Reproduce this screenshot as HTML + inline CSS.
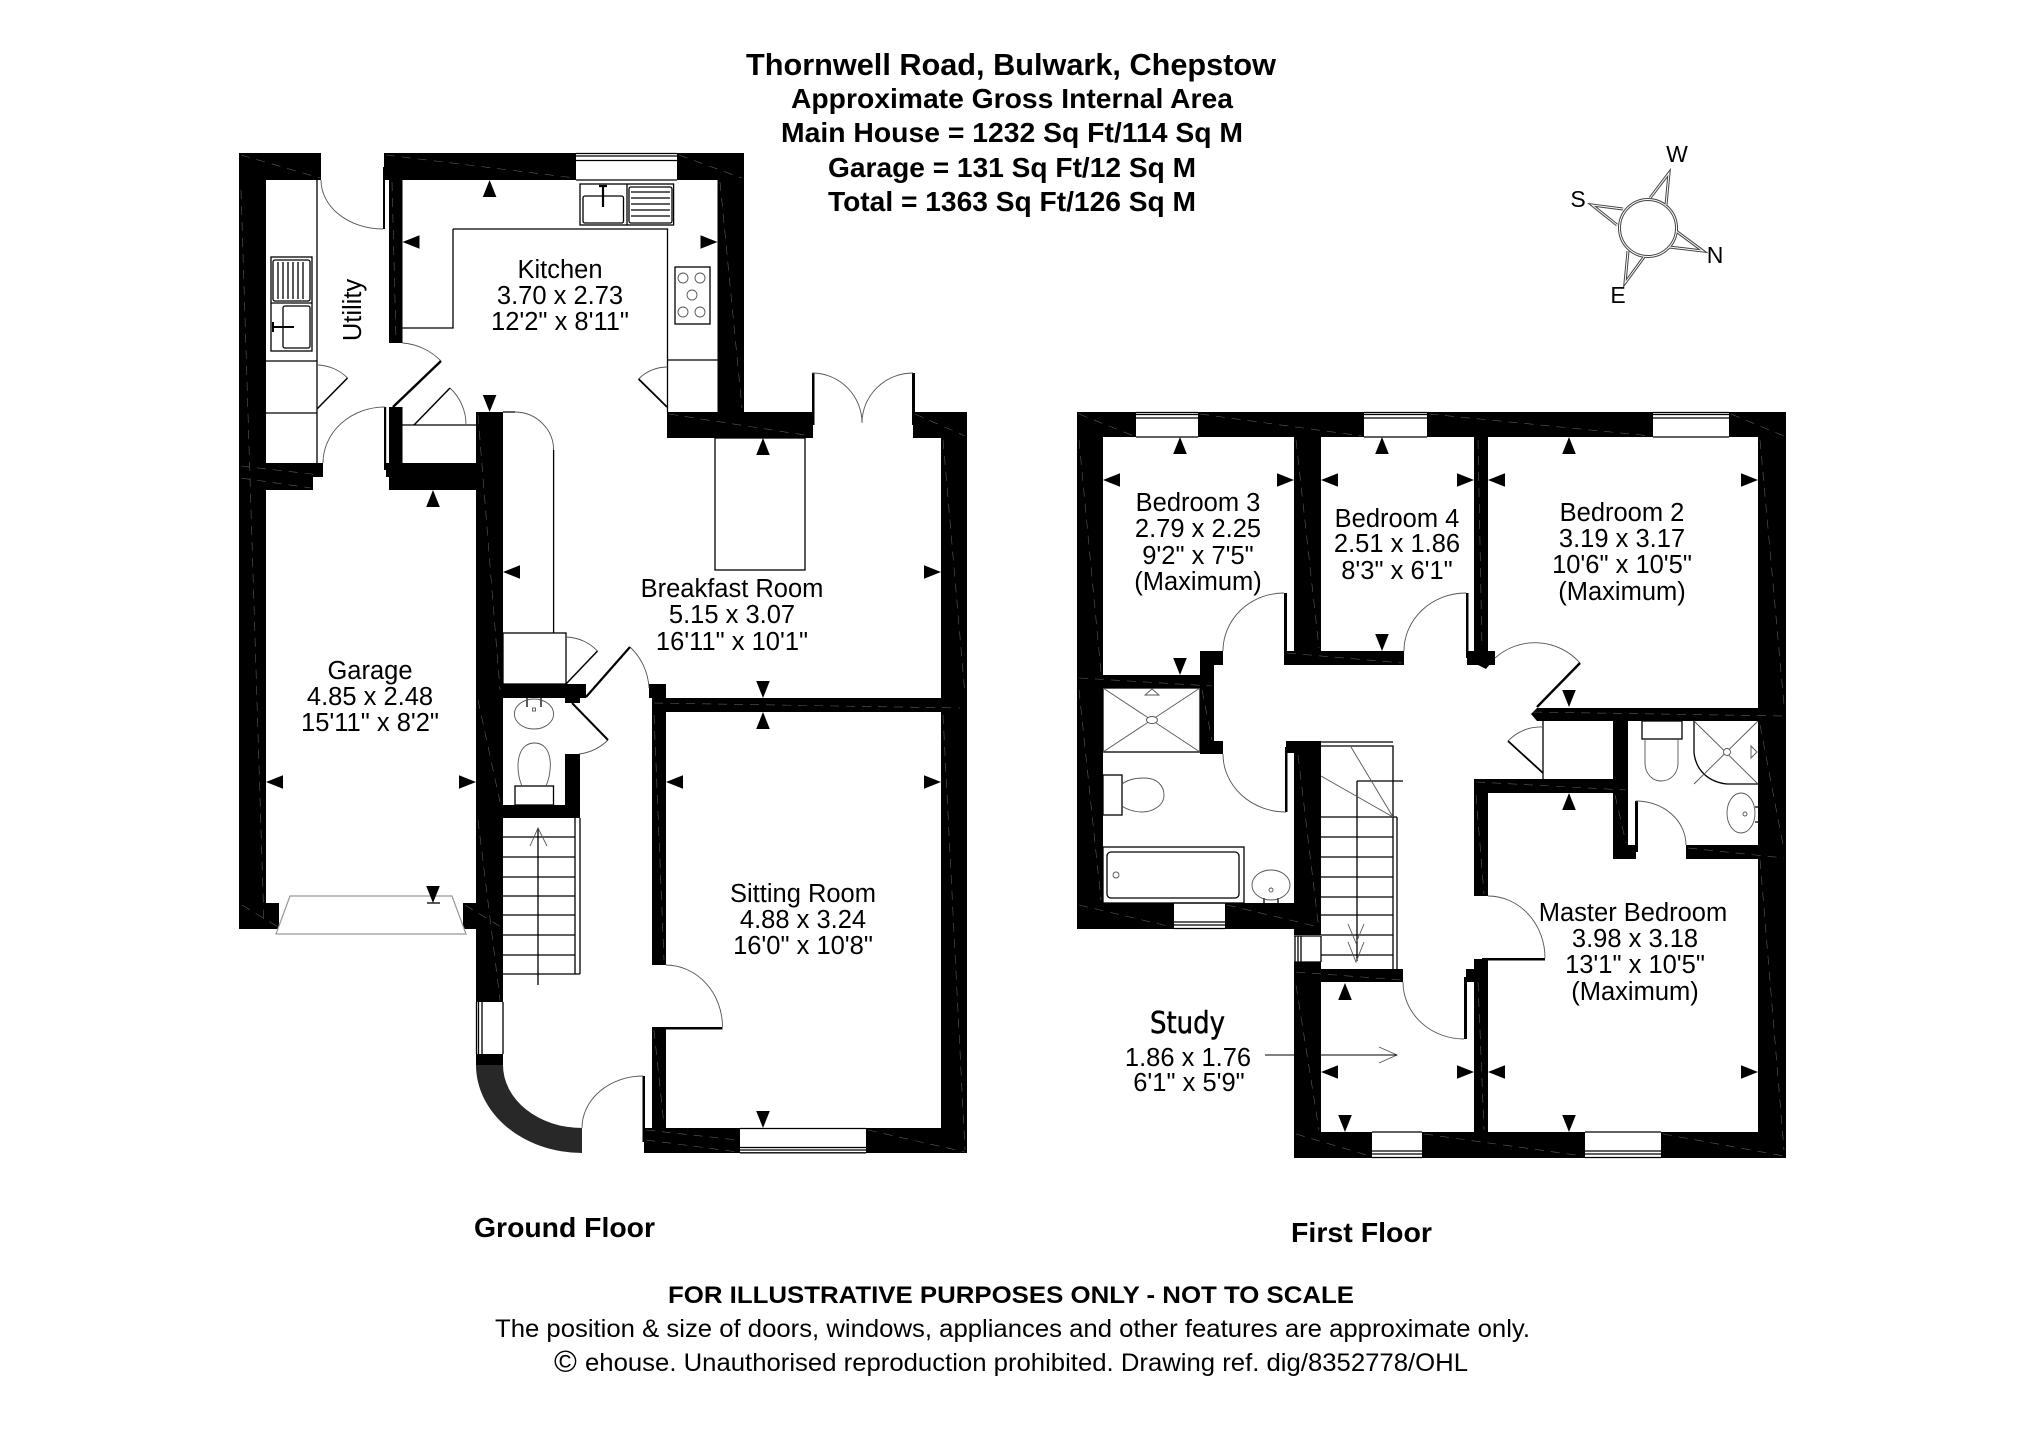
<!DOCTYPE html>
<html lang="en">
<head>
<meta charset="utf-8">
<title>Thornwell Road floor plan</title>
<style>
html,body{margin:0;padding:0;background:#fff}
svg{display:block}
text{font-family:"Liberation Sans",Arial,sans-serif;fill:#000}
.r{font-size:25.5px;text-anchor:middle}
.b{font-weight:bold}
.l{fill:none;stroke:#000;stroke-width:1.3}
.g{fill:none;stroke:#555;stroke-width:.9}
.d{fill:none;stroke:#5a5a5a;stroke-width:.6;stroke-dasharray:9 7}
</style>
</head>
<body>
<svg xmlns="http://www.w3.org/2000/svg" width="2025" height="1431" viewBox="0 0 2025 1431">
<defs><polygon id="a" points="0,0 -6.8,17 6.8,17" fill="#000"/></defs>
<rect width="2025" height="1431" fill="#fff"/>

<!-- Heading -->
<g class="b" style="font-weight:bold">
<text x="746" y="75" font-size="30.5" textLength="530" lengthAdjust="spacingAndGlyphs">Thornwell Road, Bulwark, Chepstow</text>
<text x="791" y="108" font-size="28" textLength="442" lengthAdjust="spacingAndGlyphs">Approximate Gross Internal Area</text>
<text x="781" y="142" font-size="28" textLength="462" lengthAdjust="spacingAndGlyphs">Main House = 1232 Sq Ft/114 Sq M</text>
<text x="828" y="177" font-size="28" textLength="368" lengthAdjust="spacingAndGlyphs">Garage = 131 Sq Ft/12 Sq M</text>
<text x="828" y="211" font-size="28" textLength="368" lengthAdjust="spacingAndGlyphs">Total = 1363 Sq Ft/126 Sq M</text>
<text x="474" y="1237" font-size="28" textLength="181" lengthAdjust="spacingAndGlyphs">Ground Floor</text>
<text x="1291" y="1242" font-size="28" textLength="141" lengthAdjust="spacingAndGlyphs">First Floor</text>
<text x="668" y="1303" font-size="24" textLength="686" lengthAdjust="spacingAndGlyphs">FOR ILLUSTRATIVE PURPOSES ONLY - NOT TO SCALE</text>
</g>
<text x="495" y="1337" font-size="25" textLength="1035" lengthAdjust="spacingAndGlyphs">The position &amp; size of doors, windows, appliances and other features are approximate only.</text>
<text x="554" y="1372" font-size="31">©</text>
<text x="585" y="1371" font-size="25" textLength="883" lengthAdjust="spacingAndGlyphs">ehouse. Unauthorised reproduction prohibited. Drawing ref. dig/8352778/OHL</text>

<!-- Compass -->
<g fill="none">
<g stroke="#444" stroke-width="3">
<circle cx="1648" cy="228" r="28.5"/>
<path d="M1650,198 L1669,173 L1666,205M1623,209 L1592,205 L1617,225M1676,231 L1703,251 L1669,247M1628,251 L1625,283 L1644,257"/>
</g>
<g stroke="#fff" stroke-width="1">
<circle cx="1648" cy="228" r="28.5"/>
<path d="M1650,198 L1669,173 L1666,205M1623,209 L1592,205 L1617,225M1676,231 L1703,251 L1669,247M1628,251 L1625,283 L1644,257"/>
</g>
</g>
<g font-size="23" text-anchor="middle" style="text-anchor:middle">
<text x="1677" y="162">W</text><text x="1578" y="207">S</text><text x="1715" y="263">N</text><text x="1618" y="303">E</text>
</g>

<!-- Ground floor walls -->
<g fill="#000">
<rect x="239" y="153" width="82" height="27"/>
<rect x="239" y="153" width="27" height="776"/>
<rect x="239" y="903" width="40" height="26"/>
<rect x="463" y="903" width="40" height="26"/>
<rect x="476" y="412" width="27" height="590"/>
<rect x="384" y="153" width="192" height="27"/>
<rect x="677" y="153" width="67" height="27"/>
<rect x="717.5" y="153" width="26.5" height="285"/>
<rect x="389" y="180" width="13.5" height="163"/>
<rect x="383" y="167" width="2" height="62"/>
<rect x="389" y="407" width="13.5" height="56"/>
<rect x="384" y="407" width="2.2" height="63"/>
<rect x="386" y="463" width="117" height="14"/>
<rect x="389" y="477" width="114" height="13"/>
<rect x="239" y="463" width="84" height="14"/>
<rect x="239" y="477" width="74" height="13"/>
<rect x="667" y="412" width="146" height="26"/>
<rect x="812" y="373" width="2.5" height="52"/>
<rect x="912" y="373" width="3" height="52"/>
<rect x="913" y="412" width="54" height="26"/>
<rect x="941" y="412" width="26" height="741"/>
<rect x="652" y="698" width="315" height="14"/>
<rect x="649" y="684" width="17" height="14"/>
<rect x="652" y="698" width="14" height="267"/>
<rect x="652" y="1027" width="14" height="101"/>
<rect x="658" y="1027" width="64.5" height="2.5"/>
<rect x="644" y="1128" width="96" height="25"/>
<rect x="866" y="1128" width="101" height="25"/>
<rect x="642.5" y="1076" width="2.5" height="66"/>
<rect x="476" y="684" width="110" height="14"/>
<rect x="565" y="698" width="15" height="5"/>
<rect x="565" y="754" width="15" height="64"/>
<rect x="476" y="805" width="103" height="13"/>
<rect x="476" y="1054" width="27" height="11"/>
</g>
<path d="M476,1065 A106,88 0 0 0 582,1153 V1128 A79,63 0 0 1 503,1065 Z" fill="#282828"/>

<!-- First floor walls -->
<g fill="#000">
<rect x="1077" y="412" width="59" height="25"/>
<rect x="1198" y="412" width="166" height="25"/>
<rect x="1427" y="412" width="226" height="25"/>
<rect x="1729" y="412" width="57" height="25"/>
<rect x="1077" y="412" width="26" height="517"/>
<rect x="1294" y="437" width="27" height="214"/>
<rect x="1285" y="651" width="119" height="14"/>
<rect x="1284" y="593" width="3" height="72"/>
<rect x="1200" y="651" width="23" height="14"/>
<rect x="1200" y="651" width="14" height="103"/>
<rect x="1077" y="675" width="137" height="13"/>
<rect x="1200" y="741" width="23" height="13"/>
<rect x="1285" y="747" width="2.5" height="65"/>
<rect x="1286" y="741" width="35" height="12"/>
<rect x="1294" y="741" width="27" height="194"/>
<rect x="1294" y="962" width="27" height="196"/>
<rect x="1294" y="969" width="109" height="13"/>
<rect x="1077" y="903" width="97" height="26"/>
<rect x="1225" y="903" width="96" height="26"/>
<rect x="1294" y="1132" width="78" height="26"/>
<rect x="1422" y="1132" width="163" height="26"/>
<rect x="1661" y="1132" width="125" height="26"/>
<rect x="1474" y="437" width="14" height="214"/>
<rect x="1467" y="651" width="28" height="14"/>
<rect x="1466" y="593" width="2.5" height="65"/>
<polygon points="1478,665 1486,669 1495,658 1490,655"/>
<rect x="1537" y="708" width="249" height="13"/>
<polygon points="1537,708 1531,714 1537,721"/>
<rect x="1758" y="412" width="28" height="746"/>
<rect x="1474" y="779" width="154" height="14"/>
<rect x="1474" y="793" width="14" height="103"/>
<rect x="1613" y="721" width="15" height="124"/>
<rect x="1613" y="845" width="23" height="14"/>
<rect x="1635" y="801" width="3" height="51"/>
<rect x="1686" y="845" width="72" height="14"/>
<rect x="1474" y="959" width="14" height="173"/>
<rect x="1482" y="958" width="63" height="2.5"/>
<rect x="1466" y="969" width="8" height="13"/>
<rect x="1464" y="977" width="3" height="62"/>
</g>

<!-- Faint centre lines in walls -->
<path class="d" d="M241,155 L320,178M241,190 L264,925M241,466 L320,475M241,478 L311,488M242,905 L278,927M386,155 L575,178M679,155 L742,178M720,182 L742,408M392,182 L396,340M478,415 L500,690M478,700 L500,802M478,820 L500,1000M465,905 L501,927M669,414 L811,436M915,414 L965,436M943,440 L965,695M654,703 L960,708M943,715 L965,1150M654,715 L664,960M654,1030 L664,1125M868,1130 L965,1152M646,1130 L738,1140M646,1140 L738,1152M1079,414 L1134,436M1079,440 L1101,672M1079,690 L1101,900M1079,905 L1172,927M1227,905 L1319,927M1200,414 L1362,436M1429,414 L1651,436M1731,414 L1784,436M1296,440 L1319,648M1079,678 L1212,686M1287,653 L1402,663M1202,690 L1212,740M1298,755 L1319,930M1296,972 L1401,980M1296,985 L1319,1130M1296,1134 L1370,1156M1424,1134 L1583,1156M1663,1134 L1784,1156M1760,440 L1784,705M1533,712 L1784,716M1760,725 L1784,850M1688,848 L1784,858M1760,860 L1784,1150M1476,782 L1626,790M1478,440 L1482,648M1476,795 L1484,894M1478,982 L1484,1130M1615,795 L1626,843"/>

<!-- Windows -->
<g class="l">
<path d="M576,153.5H677M576,156H677M576,160.5H677M576,180H677"/>
<path d="M740,1128.5H866M740,1147.5H866M740,1150H866M740,1152.8H866"/>
<path d="M476.5,1002V1054M478.5,1002V1054M482,1002V1054M503,1002V1054"/>
<path d="M1136,412.5H1198M1136,414.5H1198M1136,418H1198M1136,437H1198"/>
<path d="M1364,412.5H1427M1364,414.5H1427M1364,418H1427M1364,437H1427"/>
<path d="M1653,412.5H1729M1653,414.5H1729M1653,418H1729M1653,437H1729"/>
<path d="M1174,903H1225M1174,922H1225M1174,925H1225M1174,928.5H1225"/>
<path d="M1372,1132H1422M1372,1151H1422M1372,1154H1422M1372,1157.5H1422"/>
<path d="M1585,1132H1661M1585,1151H1661M1585,1154H1661M1585,1157.5H1661"/>
<path d="M1295,936V962M1298,936V962M1301,936V962M1321,936V962M1294,936H1321M1294,962H1321"/>
</g>

<!-- Garage door -->
<path d="M290,896 H452 L466,934 H276 Z" fill="#fff" stroke="#999" stroke-width="1.2"/>
<path d="M427,903H440" class="l"/>

<!-- Ground fixtures -->
<g class="l">
<path d="M317,180V463M266,361H317M266,413H317"/>
<rect x="271" y="257" width="41" height="94"/>
<path d="M271,303H312"/>
<rect x="273" y="260" width="37" height="41" rx="2"/>
<rect x="283" y="306" width="27" height="42" rx="2"/>
<path d="M278,262V299M283,262V299M288,262V299M293,262V299M298,262V299M303,262V299"/>
<path d="M272,327H294M273,322V332" stroke-width="2"/>
<path d="M453,229V328H402.5M453,229H667.5V412M667.5,360H717.5"/>
<rect x="580" y="184" width="93.6" height="41"/>
<path d="M627,184V225"/>
<rect x="583" y="196" width="40.5" height="27" rx="2"/>
<rect x="629" y="187" width="43" height="36" rx="2"/>
<path d="M631,192H670M631,198H670M631,204H670M631,210H670M631,216H670"/>
<path d="M603,186V207M599,186H607" stroke-width="2.2"/>
<rect x="675" y="267" width="35" height="57"/>
<g class="g"><circle cx="683" cy="278" r="5"/><circle cx="700" cy="278" r="5"/><circle cx="692" cy="295" r="5"/><circle cx="683" cy="312" r="5"/><circle cx="700" cy="312" r="5"/></g>
<path d="M402.5,425H476"/>
<rect x="715" y="438" width="90" height="132"/>
<path d="M503,412H515M553.6,450V633"/>
<rect x="503" y="633" width="63" height="51"/>
<rect x="515" y="786" width="38.5" height="19"/>
<path d="M503,837H575M503,857H575M503,877H575M503,896H575M503,915H575M503,935H575M503,955H575M503,974H580M575,818V974M580,818V974M538,828V985"/>
<path d="M527,698V707M541,698V707"/>
</g>
<g class="g">
<path d="M530,846L538,828L547,846"/>
<ellipse cx="534" cy="714" rx="19.6" ry="15"/>
<rect x="532.5" y="708" width="3" height="3"/>
<path d="M522,786C515,770 516,743 534.5,743C553,743 553,770 546,786"/>
</g>

<!-- Ground doors -->
<g class="g">
<path d="M321,180 A62,49 0 0 0 383,229"/>
<path d="M317,365 A44,44 0 0 1 347.5,378"/>
<path d="M385,407 A62,56 0 0 0 323,463"/>
<path d="M402.5,343 A60,60 0 0 1 441,361"/>
<path d="M450,388 A50,50 0 0 1 466,425"/>
<path d="M667.5,367 A40,40 0 0 0 638.6,379"/>
<path d="M515,412 A39,38 0 0 1 553.6,450"/>
<path d="M566,637 A45,45 0 0 1 597.5,651"/>
<path d="M630,647 A60,60 0 0 1 649,688"/>
<path d="M608,740 A50,50 0 0 1 579,754"/>
<path d="M812,373 A50,50 0 0 1 862,423"/>
<path d="M913,373 A51,50 0 0 0 862,423"/>
<path d="M666,965 A57,62 0 0 1 722.5,1027"/>
<path d="M582,1128 A61,52 0 0 1 643,1076"/>
</g>
<g fill="none" stroke="#000">
<path d="M347.5,378L317,409" stroke-width="1.5"/>
<path d="M441,361L393,407" stroke-width="2.4"/>
<path d="M414,425L450,388" stroke-width="1.5"/>
<path d="M638.6,379L667,407" stroke-width="1.8"/>
<path d="M597.5,651L566,684" stroke-width="1.5"/>
<path d="M586,697L630,647" stroke-width="2.2"/>
<path d="M572,703L608,740" stroke-width="2"/>
</g>

<!-- First floor fixtures -->
<g class="l">
<rect x="1103" y="688" width="97" height="64"/>
<rect x="1103" y="775" width="19" height="40"/>
<rect x="1103" y="847" width="141" height="56"/>
<rect x="1107" y="852" width="132" height="46" rx="4"/>
<path d="M1264,898V903M1278,898V903"/>
<path d="M1321,742H1393M1321,746H1393V969M1357,781H1403M1357,781V961M1397,817V969"/>
<path d="M1321,817H1397M1321,837H1393M1321,857H1393M1321,877H1393M1321,897H1393M1321,915H1393M1321,935H1393M1321,955H1393"/>
<path d="M1543,721V779"/>
<rect x="1642" y="721" width="40" height="18"/>
<path d="M1694,721V753C1696,770 1708,782 1727,784H1758M1755,807H1758M1755,822H1758"/>
</g>
<g class="g">
<path d="M1103,688L1200,752M1200,688L1103,752"/>
<ellipse cx="1152" cy="720" rx="5.5" ry="3.5" fill="#fff"/>
<path d="M1145,695H1159L1152,689Z"/>
<path d="M1122,784C1130,778 1140,778 1145,778C1157,778 1164,786 1164,795C1164,806 1152,812 1142,812C1134,812 1126,809 1122,806"/>
<circle cx="1116" cy="875" r="3"/>
<ellipse cx="1271" cy="885" rx="19" ry="15"/>
<circle cx="1271" cy="890" r="2"/>
<path d="M1321,776L1393,817M1351,747L1393,817"/>
<path d="M1348,924L1356,943L1364,924M1348,942L1356,962L1364,942"/>
<path d="M1379,1047L1397,1055L1379,1063"/>
<path d="M1694,721L1758,784M1758,721L1694,784"/>
<circle cx="1727" cy="752" r="3.5" fill="#fff"/>
<path d="M1751,746V758L1757,752Z"/>
<path d="M1645,739V763C1645,773 1652,781 1661,781C1671,781 1678,773 1678,763V739"/>
<ellipse cx="1741" cy="813" rx="14" ry="20"/>
<circle cx="1745" cy="814" r="2"/>
</g>
<path d="M1321,1055H1397M1265,1055H1294" stroke="#000" stroke-width="1.1" fill="none"/>

<!-- First doors -->
<g class="g">
<path d="M1284,593 A61,58 0 0 0 1223,651"/>
<path d="M1223,754 A63,58 0 0 0 1286,812"/>
<path d="M1466,593 A62,58 0 0 0 1404,651"/>
<path d="M1495,658 A60,60 0 0 1 1580,663"/>
<path d="M1543,727 A45,45 0 0 0 1508,741"/>
<path d="M1636,801 A50,44 0 0 1 1686,845"/>
<path d="M1488,896 A57,62 0 0 1 1545,958"/>
<path d="M1464,1039 A61,57 0 0 1 1403,982"/>
</g>
<g fill="none" stroke="#000">
<path d="M1580,663L1537,707" stroke-width="2.4"/>
<path d="M1508,741L1543,773" stroke-width="1.8"/>
</g>

<!-- Dimension arrows -->
<use href="#a" transform="translate(489.6,180)"/>
<use href="#a" transform="translate(402.5,242) rotate(270)"/>
<use href="#a" transform="translate(717.5,242) rotate(90)"/>
<use href="#a" transform="translate(489.6,412) rotate(180)"/>
<use href="#a" transform="translate(433,490)"/>
<use href="#a" transform="translate(763,438)"/>
<use href="#a" transform="translate(941,572) rotate(90)"/>
<use href="#a" transform="translate(503,572) rotate(270)"/>
<use href="#a" transform="translate(763,698) rotate(180)"/>
<use href="#a" transform="translate(763,712)"/>
<use href="#a" transform="translate(666,782) rotate(270)"/>
<use href="#a" transform="translate(941,782) rotate(90)"/>
<use href="#a" transform="translate(763,1128) rotate(180)"/>
<use href="#a" transform="translate(266,782) rotate(270)"/>
<use href="#a" transform="translate(476,782) rotate(90)"/>
<use href="#a" transform="translate(433,903) rotate(180)"/>
<use href="#a" transform="translate(1180,437)"/>
<use href="#a" transform="translate(1103,480) rotate(270)"/>
<use href="#a" transform="translate(1294,480) rotate(90)"/>
<use href="#a" transform="translate(1180,675) rotate(180)"/>
<use href="#a" transform="translate(1382,437)"/>
<use href="#a" transform="translate(1321,480) rotate(270)"/>
<use href="#a" transform="translate(1474,480) rotate(90)"/>
<use href="#a" transform="translate(1382,651) rotate(180)"/>
<use href="#a" transform="translate(1569,437)"/>
<use href="#a" transform="translate(1488,480) rotate(270)"/>
<use href="#a" transform="translate(1758,480) rotate(90)"/>
<use href="#a" transform="translate(1569,707) rotate(180)"/>
<use href="#a" transform="translate(1569,793)"/>
<use href="#a" transform="translate(1488,1072) rotate(270)"/>
<use href="#a" transform="translate(1758,1072) rotate(90)"/>
<use href="#a" transform="translate(1569,1132) rotate(180)"/>
<use href="#a" transform="translate(1345,983)"/>
<use href="#a" transform="translate(1321,1072) rotate(270)"/>
<use href="#a" transform="translate(1474,1072) rotate(90)"/>
<use href="#a" transform="translate(1345,1132) rotate(180)"/>

<!-- Room labels -->
<text class="r" transform="translate(361,310) rotate(-90)">Utility</text>
<text class="r" x="560" y="278">Kitchen</text><text class="r" x="560" y="304">3.70 x 2.73</text><text class="r" x="560" y="330">12'2" x 8'11"</text>
<text class="r" x="732" y="597">Breakfast Room</text><text class="r" x="732" y="623">5.15 x 3.07</text><text class="r" x="732" y="650">16'11" x 10'1"</text>
<text class="r" x="370" y="679">Garage</text><text class="r" x="370" y="705">4.85 x 2.48</text><text class="r" x="370" y="731">15'11" x 8'2"</text>
<text class="r" x="803" y="902">Sitting Room</text><text class="r" x="803" y="928">4.88 x 3.24</text><text class="r" x="803" y="954">16'0" x 10'8"</text>
<text class="r" x="1198" y="511">Bedroom 3</text><text class="r" x="1198" y="537">2.79 x 2.25</text><text class="r" x="1198" y="564">9'2" x 7'5"</text><text class="r" x="1198" y="590">(Maximum)</text>
<text class="r" x="1397" y="527">Bedroom 4</text><text class="r" x="1397" y="552">2.51 x 1.86</text><text class="r" x="1397" y="579">8'3" x 6'1"</text>
<text class="r" x="1622" y="521">Bedroom 2</text><text class="r" x="1622" y="547">3.19 x 3.17</text><text class="r" x="1622" y="573">10'6" x 10'5"</text><text class="r" x="1622" y="600">(Maximum)</text>
<text class="r" x="1633" y="921">Master Bedroom</text><text class="r" x="1635" y="947">3.98 x 3.18</text><text class="r" x="1635" y="973">13'1" x 10'5"</text><text class="r" x="1635" y="1000">(Maximum)</text>
<text x="1150" y="1033" font-size="30" textLength="75" lengthAdjust="spacingAndGlyphs" stroke="#000" stroke-width=".5" style="font-family:'DejaVu Sans','Liberation Sans',sans-serif">Study</text>
<text class="r" x="1188" y="1066">1.86 x 1.76</text><text class="r" x="1189" y="1091">6'1" x 5'9"</text>
</svg>
</body>
</html>
